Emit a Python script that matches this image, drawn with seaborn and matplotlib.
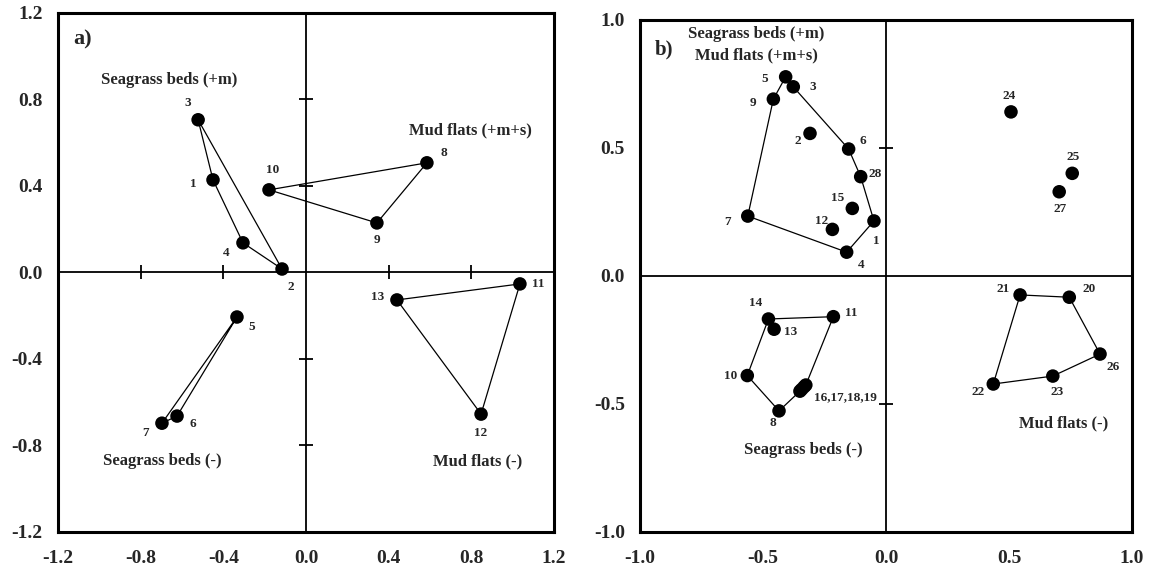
import matplotlib
matplotlib.use("Agg")
import matplotlib.pyplot as plt
import seaborn as sns
import pandas as pd

sns.set_style("white")
plt.rcParams["font.family"] = ["Liberation Serif", "DejaVu Serif"]
plt.rcParams["font.weight"] = "bold"

# ---- panel a data ----
a_ids = ["1", "2", "3", "4", "5", "6", "7", "8", "9", "10", "11", "12", "13"]
a_x = [-0.45, -0.116, -0.522, -0.305, -0.334, -0.624, -0.697, 0.585, 0.343, -0.179, 1.035, 0.847, 0.44]
a_y = [0.428, 0.016, 0.706, 0.137, -0.206, -0.664, -0.697, 0.507, 0.229, 0.382, -0.053, -0.655, -0.127]
a_groups = [
    ["3", "1", "4", "2"],
    ["10", "8", "9"],
    ["5", "6", "7"],
    ["13", "11", "12"],
]
a_names = ["Seagrass beds (+m)", "Mud flats (+m+s)", "Seagrass beds (-)", "Mud flats (-)"]

# ---- panel b data ----
b_ids = ["1", "2", "3", "4", "5", "6", "7", "8", "9", "10", "11", "12", "13", "14", "15",
         "16", "17", "18", "19", "20", "21", "22", "23", "24", "25", "26", "27", "28"]
b_x = [-0.049, -0.309, -0.377, -0.16, -0.408, -0.152, -0.562, -0.435, -0.458, -0.564,
       -0.214, -0.218, -0.455, -0.478, -0.137, -0.35, -0.343, -0.333, -0.326,
       0.745, 0.545, 0.436, 0.678, 0.508, 0.757, 0.87, 0.704, -0.103]
b_y = [0.215, 0.557, 0.739, 0.093, 0.778, 0.496, 0.234, -0.527, 0.691, -0.389,
       -0.159, 0.182, -0.208, -0.168, 0.264, -0.45, -0.443, -0.433, -0.426,
       -0.083, -0.074, -0.422, -0.391, 0.641, 0.401, -0.305, 0.329, 0.388]
b_groups = [
    ["5", "3", "6", "28", "1", "4", "7", "9"],
    ["14", "11", "19", "16", "8", "10"],
    ["21", "20", "26", "23", "22"],
]

# label offsets in pixels (dx, dy) relative to each dot
a_offsets = {"1": (-20, -4), "2": (9, -18), "3": (-10, 17), "4": (-17, -10), "5": (15, -10),
             "6": (16, -8), "7": (-16, -10), "8": (17, 10), "9": (0, -17), "10": (4, 20),
             "11": (18, 0), "12": (0, -19), "13": (-19, 3)}
b_offsets = {"1": (2, -20), "2": (-12, -8), "3": (19, 0), "4": (15, -13), "5": (-21, -2),
             "6": (14, 8), "7": (-20, -6), "8": (-6, -12), "9": (-20, -4), "10": (-17, 0),
             "11": (18, 4), "12": (-11, 8), "13": (17, -3), "14": (-13, 16), "15": (-15, 10),
             "20": (20, 8), "21": (-17, 6), "22": (-15, -8), "23": (4, -16), "24": (-2, 16),
             "25": (1, 16), "26": (13, -13), "27": (1, -17), "28": (15, 3)}

fig = plt.figure(figsize=(11.53, 5.73), dpi=100)
ax_a = fig.add_axes([0.0503, 0.0716, 0.4302, 0.9058])
ax_b = fig.add_axes([0.5551, 0.0716, 0.4267, 0.8935])


def draw_panel(ax, ids, xs, ys, groups, offsets, lim, ticks, cross_x, cross_y):
    df = pd.DataFrame({"id": ids, "x": xs, "y": ys})
    pos = df.set_index("id")
    for g in groups:
        pts = pos.loc[g + [g[0]]]
        ax.plot(pts["x"], pts["y"], color="black", lw=0.9, zorder=2)
    sns.scatterplot(data=df, x="x", y="y", ax=ax, color="black", s=95,
                    edgecolor="none", zorder=3, legend=False)
    for pid, (dx, dy) in offsets.items():
        ax.annotate(pid, (pos.loc[pid, "x"], pos.loc[pid, "y"]), xytext=(dx, dy),
                    textcoords="offset pixels", ha="center", va="center",
                    fontsize=9.5, fontweight="bold")
    ax.axhline(0, color="black", lw=1.3, zorder=1)
    ax.axvline(0, color="black", lw=1.3, zorder=1)
    ax.plot(cross_x, [0] * len(cross_x), ls="none", marker="|", ms=10,
            mew=1.3, color="black", zorder=1)
    ax.plot([0] * len(cross_y), cross_y, ls="none", marker="_", ms=10,
            mew=1.3, color="black", zorder=1)
    ax.set_xlim(-lim, lim)
    ax.set_ylim(-lim, lim)
    ax.set_xticks(ticks)
    ax.set_yticks(ticks)
    ax.set_xticklabels([f"{t:.1f}" for t in ticks])
    ax.set_yticklabels([f"{t:.1f}" for t in ticks])
    ax.tick_params(length=0, labelsize=14)
    ax.tick_params(axis="x", pad=13)
    ax.tick_params(axis="y", pad=11)
    ax.set_xlabel("")
    ax.set_ylabel("")
    for s in ax.spines.values():
        s.set_color("black")
        s.set_linewidth(2.2)


a_ticks = [-1.2, -0.8, -0.4, 0.0, 0.4, 0.8, 1.2]
b_ticks = [-1.0, -0.5, 0.0, 0.5, 1.0]
draw_panel(ax_a, a_ids, a_x, a_y, a_groups, a_offsets, 1.2, a_ticks,
           [-0.8, -0.4, 0.4, 0.8], [-0.8, -0.4, 0.4, 0.8])
draw_panel(ax_b, b_ids, b_x, b_y, b_groups, b_offsets, 1.0, b_ticks,
           [], [-0.5, 0.5])

# combined label for points 16-19
ax_b.annotate("16,17,18,19", (-0.337, -0.438), xytext=(11, -9),
              textcoords="offset pixels", ha="left", va="center",
              fontsize=9.5, fontweight="bold")

txt = dict(ha="center", va="center", fontsize=12, fontweight="bold")
ax_a.text(-0.663, 0.891, a_names[0], **txt)
ax_a.text(0.798, 0.655, a_names[1], **txt)
ax_a.text(-0.697, -0.873, a_names[2], **txt)
ax_a.text(0.832, -0.873, a_names[3], **txt)
ax_a.text(-1.127, 1.076, "a)", ha="left", va="center", fontsize=16, fontweight="bold")

ax_b.text(-0.528, 0.945, a_names[0], **txt)
ax_b.text(-0.528, 0.863, a_names[1], **txt)
ax_b.text(-0.337, -0.68, a_names[2], **txt)
ax_b.text(0.72, -0.574, a_names[3], **txt)
ax_b.text(-0.939, 0.883, "b)", ha="left", va="center", fontsize=15, fontweight="bold")

fig.savefig("out.png", dpi=100)
